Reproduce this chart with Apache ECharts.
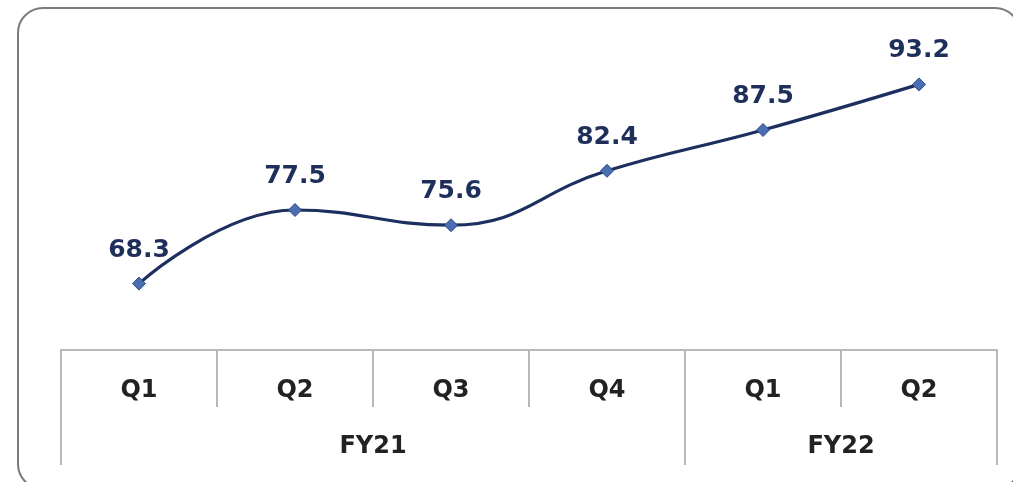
<!DOCTYPE html>
<html>
<head>
<meta charset="utf-8">
<script src="https://cdn.jsdelivr.net/npm/echarts@6/dist/echarts.min.js"></script>
<style>
  html, body { margin: 0; padding: 0; background: #fff; overflow: hidden; }
  #frame { position: absolute; left: 17px; top: 7px; width: 1004px; height: 483px;
           border: 2px solid #7a7a7a; border-radius: 26px; box-sizing: border-box; }
  #chart { position: absolute; left: 0; top: 0; width: 1013px; height: 482px; }
</style>
</head>
<body>
<div id="frame"></div>
<div id="chart"></div>
<script>
// ---- data ----
var quarters = ['Q1', 'Q2', 'Q3', 'Q4', 'Q1', 'Q2'];
var values = [68.3, 77.5, 75.6, 82.4, 87.5, 93.2];
var years = ['FY21', 'FY22'];
var yearSpans = [4, 2];   // number of quarters per year

// Build a fine (half-quarter) category axis for the year level
var yearCats = [];
var yearLabelIdx = {};
var yearTickIdx = { 0: true };
var pos = 0;
for (var i = 0; i < years.length; i++) {
  yearLabelIdx[pos + yearSpans[i]] = years[i]; // center (in half-steps)
  pos += 2 * yearSpans[i];
  yearTickIdx[pos] = true;
}
for (var k = 0; k <= pos; k++) yearCats.push(yearLabelIdx[k] || '');

var font = 'DejaVu Sans';
var chart = echarts.init(document.getElementById('chart'));
chart.setOption({
  animation: false,
  grid: { left: 61, right: 16, top: 30, height: 320, containLabel: false },
  xAxis: [
    {
      type: 'category',
      data: quarters,
      boundaryGap: true,
      axisLine: { show: true, lineStyle: { color: '#b8b8b8', width: 2 } },
      axisTick: { show: true, length: 57, interval: 0, lineStyle: { color: '#b8b8b8', width: 2 } },
      axisLabel: { interval: 0, margin: 29, fontFamily: font, fontWeight: 'bold', fontSize: 24, color: '#222', lineHeight: 24 }
    },
    {
      type: 'category',
      position: 'bottom',
      data: yearCats,
      boundaryGap: false,
      axisLine: { show: false },
      axisTick: {
        show: true, length: 115, alignWithLabel: true,
        interval: function (idx) { return !!yearTickIdx[idx]; },
        lineStyle: { color: '#b8b8b8', width: 2 }
      },
      axisLabel: {
        margin: 85, fontFamily: font, fontWeight: 'bold', fontSize: 24, color: '#222', lineHeight: 24,
        interval: function (idx, val) { return val !== ''; }
      }
    }
  ],
  yAxis: {
    type: 'value', min: 60, max: 100, show: false,
    splitLine: { show: false }
  },
  series: [{
    type: 'line',
    data: values,
    smooth: 0.45,
    symbol: 'diamond',
    symbolSize: 13,
    lineStyle: { color: '#1c2f5e', width: 3.2 },
    itemStyle: { color: '#4a6eb0', borderColor: '#2c4a86', borderWidth: 1 },
    label: {
      show: true, position: 'top', distance: 14,
      fontFamily: font, fontWeight: 'bold', fontSize: 25, color: '#1f2f5c',
      formatter: function (p) { return p.value.toFixed(1); }
    }
  }]
});
</script>
</body>
</html>
